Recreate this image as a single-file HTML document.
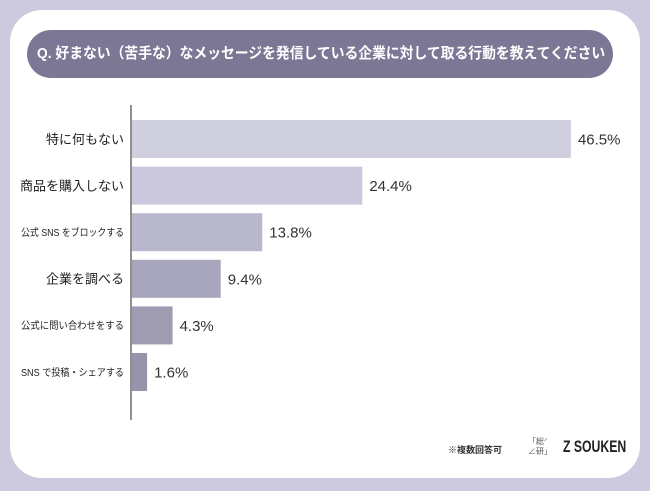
<!DOCTYPE html>
<html><head><meta charset="utf-8">
<style>
body{margin:0;width:650px;height:491px;background:#cdc9de;overflow:hidden;font-family:"Liberation Sans","Noto Sans CJK JP",sans-serif;}
#card{position:absolute;left:10px;top:10px;width:630px;height:468px;background:#fff;border-radius:32px;}
#title{position:absolute;left:27px;top:30px;width:586px;height:48px;background:#7b7795;border-radius:24px;}
#title span{position:absolute;left:10px;top:0;line-height:48px;color:#fff;font-weight:bold;font-size:15px;white-space:nowrap;transform:scaleX(0.92);transform-origin:left;}
svg{position:absolute;left:0;top:0;}
</style></head><body>
<div id="card"></div>
<div id="title"><span>Q. 好まない（苦手な）なメッセージを発信している企業に対して取る行動を教えてください</span></div>
<svg id="chart" width="650" height="491"></svg>
<div style="position:absolute;left:448px;top:443px;font-size:9px;font-weight:bold;color:#333">※複数回答可</div>
<div style="position:absolute;left:528px;top:437px;font-size:8px;line-height:10px;color:#555">「総ᐟ<br>∠研」</div>
<div style="position:absolute;left:563px;top:437px;font-size:17px;font-weight:bold;color:#222;transform:scaleX(0.72);transform-origin:left;white-space:nowrap">Z SOUKEN</div>
<script>
const categories=["特に何もない","商品を購入しない","公式 SNS をブロックする","企業を調べる","公式に問い合わせをする","SNS で投稿・シェアする"];
const values=[46.5,24.4,13.8,9.4,4.3,1.6];
const labelSizes=[13,13,10,13,10,10];
const colors=["#d0cfdf","#cbc8de","#b9b7cc","#a8a6bc","#9f9cb2","#9793ab"];
const svg=document.getElementById('chart');
const NS='http://www.w3.org/2000/svg';
const x0=132, pxPer=9.44, y0=120, step=46.6, bh=38;
const xs=v=>x0+v*pxPer;
const ys=i=>y0+i*step;
const ax=document.createElementNS(NS,'line');
ax.setAttribute('x1',131);ax.setAttribute('x2',131);ax.setAttribute('y1',105);ax.setAttribute('y2',420);
ax.setAttribute('stroke','#222');ax.setAttribute('stroke-width','1');


svg.appendChild(ax);
values.forEach((v,i)=>{
 const r=document.createElementNS(NS,'rect');
 r.setAttribute('x',x0);r.setAttribute('y',ys(i));r.setAttribute('width',xs(v)-x0);r.setAttribute('height',bh);r.setAttribute('fill',colors[i]);
 
 
 svg.appendChild(r);
 const t=document.createElementNS(NS,'text');
 t.setAttribute('x',xs(v)+7);t.setAttribute('y',ys(i)+bh/2+5.5);t.setAttribute('font-size','15');t.setAttribute('fill','#333');
 t.textContent=v.toFixed(1)+'%';
 
 
 svg.appendChild(t);
 const l=document.createElementNS(NS,'text');
 l.setAttribute('x',124);l.setAttribute('y',ys(i)+bh/2+labelSizes[i]*0.38);l.setAttribute('font-size',labelSizes[i]);l.setAttribute('text-anchor','end');l.setAttribute('fill','#222');
 if(labelSizes[i]<11){l.setAttribute('textLength',103);l.setAttribute('lengthAdjust','spacingAndGlyphs');}
 l.textContent=categories[i];
 
 
 svg.appendChild(l);
});
</script>
</body></html>
